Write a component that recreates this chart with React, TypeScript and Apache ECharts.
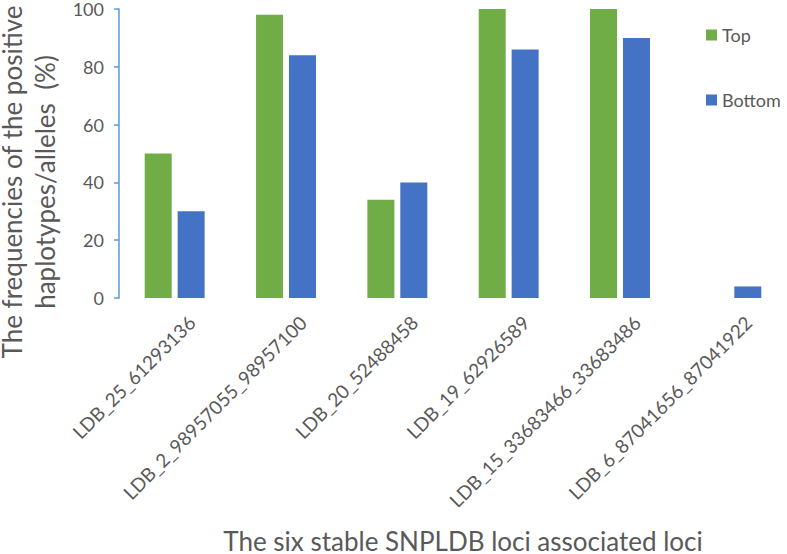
import React, { useEffect, useRef } from "react";
import * as echarts from "echarts";

const categories = [
  "LDB_25_61293136",
  "LDB_2_98957055_98957100",
  "LDB_20_52488458",
  "LDB_19_62926589",
  "LDB_15_33683466_33683486",
  "LDB_6_87041656_87041922",
];
const topValues = [50, 98, 34, 100, 100, 0];
const bottomValues = [30, 84, 40, 86, 90, 4];
const yTicks = [0, 20, 40, 60, 80, 100];

const FONT = "Lato, 'Noto Sans', sans-serif";
const GRAY = "#595959";

export default function App() {
  const ref = useRef<HTMLDivElement>(null);
  useEffect(() => {
    document.body.style.margin = "0";
    if (!ref.current) return;
    const chart = echarts.init(ref.current, undefined, { renderer: "svg" });
    chart.setOption({
      animation: false,
      textStyle: { fontFamily: FONT },
      grid: { left: 119, width: 694, top: 9, bottom: 256, containLabel: false },
      legend: {
        orient: "vertical",
        left: 701,
        top: 21,
        itemGap: 47,
        itemWidth: 11,
        itemHeight: 11,
        icon: "rect",
        textStyle: { fontSize: 18, color: GRAY, fontFamily: FONT },
        data: ["Top", "Bottom"],
      },
      xAxis: {
        type: "category",
        data: categories,
        axisLine: { show: false },
        axisTick: { show: false },
        axisLabel: {
          rotate: 45,
          interval: 0,
          fontSize: 19,
          color: GRAY,
          fontFamily: FONT,
          margin: 38,
          padding: [0, -24, 0, 0],
        },
      },
      yAxis: {
        type: "value",
        min: yTicks[0],
        max: yTicks[yTicks.length - 1],
        interval: 20,
        splitLine: { show: false },
        axisLine: { show: true, lineStyle: { color: "#5B9BD5", width: 1.5 } },
        axisTick: { show: true, length: 5, lineStyle: { color: "#5B9BD5", width: 1.5 } },
        axisLabel: { fontSize: 18, color: GRAY, fontFamily: FONT, margin: 15 },
      },
      series: [
        {
          name: "Top",
          type: "bar",
          data: topValues,
          barWidth: 27,
          barGap: "22%",
          itemStyle: { color: "#70AD47" },
        },
        {
          name: "Bottom",
          type: "bar",
          data: bottomValues,
          barWidth: 27,
          barGap: "22%",
          itemStyle: { color: "#4472C4" },
        },
      ],
      graphic: [
        {
          type: "text",
          x: 28,
          y: 182,
          rotation: Math.PI / 2,
          style: {
            text: "The frequencies of the positive\nhaplotypes/alleles  (%)",
            textAlign: "center",
            textVerticalAlign: "middle",
            fontSize: 26,
            lineHeight: 33,
            fill: GRAY,
            fontFamily: FONT,
          },
        },
        {
          type: "text",
          x: 463,
          y: 541,
          style: {
            text: "The six stable SNPLDB loci associated loci",
            textAlign: "center",
            textVerticalAlign: "middle",
            fontSize: 26,
            fill: GRAY,
            fontFamily: FONT,
          },
        },
      ],
    });
    return () => chart.dispose();
  }, []);
  return <div ref={ref} style={{ width: 787, height: 554 }} />;
}
